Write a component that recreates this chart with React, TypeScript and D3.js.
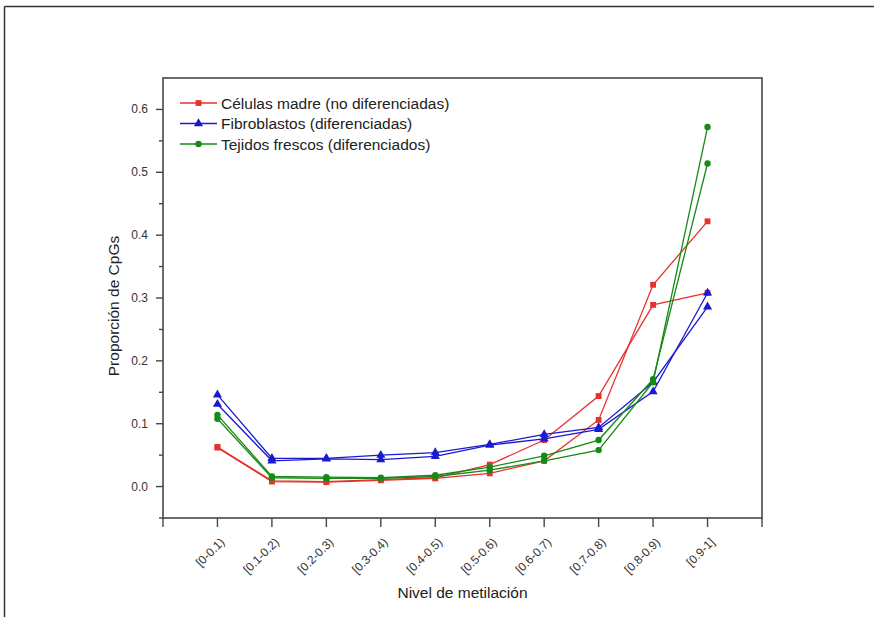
import React from "react";
import * as d3 from "d3";

const categories = [
  "[0-0.1)", "[0.1-0.2)", "[0.2-0.3)", "[0.3-0.4)", "[0.4-0.5)",
  "[0.5-0.6)", "[0.6-0.7)", "[0.7-0.8)", "[0.8-0.9)", "[0.9-1]",
];

// Células madre (no diferenciadas) – two replicates
const celulasA = [0.063, 0.009, 0.008, 0.011, 0.014, 0.035, 0.074, 0.144, 0.289, 0.308];
const celulasB = [0.062, 0.008, 0.007, 0.010, 0.013, 0.021, 0.041, 0.106, 0.321, 0.422];
// Fibroblastos (diferenciadas)
const fibroA = [0.146, 0.045, 0.045, 0.050, 0.054, 0.067, 0.083, 0.094, 0.166, 0.286];
const fibroB = [0.131, 0.041, 0.044, 0.043, 0.048, 0.066, 0.076, 0.091, 0.151, 0.308];
// Tejidos frescos (diferenciados)
const tejidosA = [0.114, 0.016, 0.015, 0.014, 0.018, 0.031, 0.049, 0.074, 0.171, 0.514];
const tejidosB = [0.108, 0.014, 0.013, 0.013, 0.016, 0.026, 0.041, 0.058, 0.166, 0.572];

const yMajorTicks = [0, 0.1, 0.2, 0.3, 0.4, 0.5, 0.6];
const yMinorTicks = [-0.05, 0.05, 0.15, 0.25, 0.35, 0.45, 0.55];

const legendLabels = [
  "Células madre (no diferenciadas)",
  "Fibroblastos (diferenciadas)",
  "Tejidos frescos (diferenciados)",
];

const RED = "#e8302c";
const BLUE = "#1a1ad0";
const GREEN = "#168a16";
const AXIS = "#474747";
const FONT = "'Liberation Sans', Arial, sans-serif";

export default function App() {
  const W = 874;
  const H = 617;
  const left = 163;
  const right = 762;
  const top = 78;
  const bottom = 518;

  const x = d3.scaleLinear().domain([-1, categories.length]).range([left, right]);
  const y = d3.scaleLinear().domain([-0.05, 0.65]).range([bottom, top]);

  const line = d3
    .line<number>()
    .x((_, i) => x(i))
    .y((d) => y(d));

  const groups = [
    { color: RED, shape: d3.symbolSquare, size: 34, data: [celulasA, celulasB] },
    { color: BLUE, shape: d3.symbolTriangle, size: 36, data: [fibroA, fibroB] },
    { color: GREEN, shape: d3.symbolCircle, size: 32, data: [tejidosA, tejidosB] },
  ];

  const xTickPositions = d3.range(-1, categories.length + 1);

  return (
    <svg
      width={W}
      height={H}
      style={{ position: "absolute", left: 0, top: 0, background: "#fff" }}
      fontFamily={FONT}
    >
      <rect x={0} y={0} width={W} height={H} fill="#fff" />
      {/* outer frame (left and top edges) */}
      <line x1={4.5} y1={6.5} x2={W} y2={6.5} stroke="#333" strokeWidth={1.5} />
      <line x1={4.5} y1={6.5} x2={4.5} y2={H} stroke="#333" strokeWidth={1.5} />

      {/* plot box */}
      <rect
        x={left}
        y={top}
        width={right - left}
        height={bottom - top}
        fill="none"
        stroke={AXIS}
        strokeWidth={1.6}
      />

      {/* y ticks */}
      {yMajorTicks.map((t) => (
        <g key={"ym" + t}>
          <line x1={left - 7} x2={left} y1={y(t)} y2={y(t)} stroke={AXIS} strokeWidth={1.4} />
          <text
            x={left - 15}
            y={y(t)}
            textAnchor="end"
            dominantBaseline="central"
            fontSize={12}
            fill="#333"
          >
            {d3.format(".1f")(t)}
          </text>
        </g>
      ))}
      {yMinorTicks.map((t) => (
        <line key={"yn" + t} x1={left - 4} x2={left} y1={y(t)} y2={y(t)} stroke={AXIS} strokeWidth={1.4} />
      ))}

      {/* x ticks */}
      {xTickPositions.map((i) => (
        <line key={"xt" + i} x1={x(i)} x2={x(i)} y1={bottom} y2={bottom + 9} stroke={AXIS} strokeWidth={1.4} />
      ))}
      {categories.map((c, i) => (
        <text
          key={"xl" + c}
          transform={`translate(${x(i) + 5},${bottom + 22}) rotate(-45)`}
          textAnchor="end"
          dominantBaseline="central"
          fontSize={12}
          fill="#333"
        >
          {c}
        </text>
      ))}

      {/* axis titles */}
      <text
        x={(left + right) / 2}
        y={598}
        textAnchor="middle"
        fontSize={15.5}
        fill="#222"
      >
        Nivel de metilación
      </text>
      <text
        transform={`translate(119,${(top + bottom) / 2 + 8}) rotate(-90)`}
        textAnchor="middle"
        fontSize={15.5}
        fill="#222"
      >
        Proporción de CpGs
      </text>

      {/* series */}
      {groups.map((g, gi) => (
        <g key={"g" + gi}>
          {g.data.map((s, si) => (
            <g key={"s" + si}>
              <path d={line(s) || ""} fill="none" stroke={g.color} strokeWidth={1.3} />
              {s.map((v, i) => (
                <path
                  key={"m" + i}
                  d={d3.symbol().type(g.shape).size(g.size)() || ""}
                  transform={`translate(${x(i)},${y(v)})`}
                  fill={g.color}
                />
              ))}
            </g>
          ))}
        </g>
      ))}

      {/* legend */}
      {groups.map((g, gi) => {
        const ly = 103 + gi * 20.5;
        return (
          <g key={"lg" + gi}>
            <line x1={180} x2={217} y1={ly} y2={ly} stroke={g.color} strokeWidth={1.3} />
            <path
              d={d3.symbol().type(g.shape).size(g.size)() || ""}
              transform={`translate(198.5,${ly})`}
              fill={g.color}
            />
            <text x={221} y={ly} dominantBaseline="central" fontSize={15.5} fill="#222">
              {legendLabels[gi]}
            </text>
          </g>
        );
      })}
    </svg>
  );
}
